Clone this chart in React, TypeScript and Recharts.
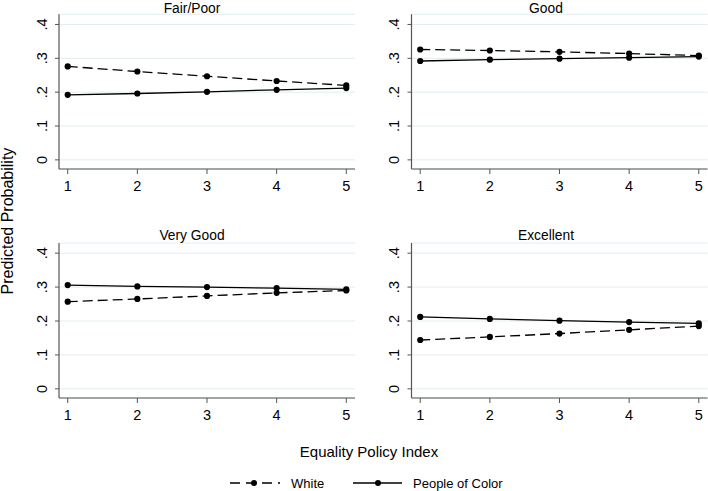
import React from 'react';
import { LineChart, Line, XAxis, YAxis, CartesianGrid } from 'recharts';

const indexValues = [1, 2, 3, 4, 5];
const panelTitles = ['Fair/Poor', 'Good', 'Very Good', 'Excellent'];
const whiteFairPoor = [0.276, 0.261, 0.247, 0.233, 0.22];
const pocFairPoor = [0.192, 0.196, 0.201, 0.207, 0.212];
const whiteGood = [0.326, 0.323, 0.319, 0.314, 0.308];
const pocGood = [0.292, 0.296, 0.299, 0.302, 0.305];
const whiteVeryGood = [0.257, 0.265, 0.274, 0.283, 0.29];
const pocVeryGood = [0.306, 0.302, 0.3, 0.297, 0.293];
const whiteExcellent = [0.144, 0.153, 0.163, 0.174, 0.185];
const pocExcellent = [0.212, 0.206, 0.201, 0.197, 0.193];
const yTicks = [0, 0.1, 0.2, 0.3, 0.4];
const yTickLabels = ['0', '.1', '.2', '.3', '.4'];
const seriesNames = ['White', 'People of Color'];

const FONT = '"Liberation Sans", Arial, Helvetica, sans-serif';
const AXIS_COLOR = '#555555';
const GRID_COLOR = '#e3edf1';

const whiteSeries = [whiteFairPoor, whiteGood, whiteVeryGood, whiteExcellent];
const pocSeries = [pocFairPoor, pocGood, pocVeryGood, pocExcellent];

const buildRows = (w: number[], p: number[]) =>
  indexValues.map((x, i) => ({ x, white: w[i], poc: p[i] }));

const XTick = (props: any) => {
  const { x, y, payload } = props;
  return (
    <text x={x} y={y + 17} textAnchor="middle" fontFamily={FONT} fontSize={14.5} fill="#000">
      {payload.value}
    </text>
  );
};

const YTick = (props: any) => {
  const { x, y, payload } = props;
  const idx = yTicks.indexOf(payload.value);
  const label = idx >= 0 ? yTickLabels[idx] : String(payload.value);
  const bx = x - 8;
  return (
    <text
      x={bx}
      y={y}
      textAnchor="middle"
      transform={`rotate(-90, ${bx}, ${y})`}
      fontFamily={FONT}
      fontSize={14.5}
      fill="#000"
    >
      {label}
    </text>
  );
};

const Dot = (props: any) => {
  const { cx, cy, index, dataKey } = props;
  if (cx == null || cy == null) return <g key={`${dataKey}-${index}`} />;
  return <circle key={`${dataKey}-${index}`} cx={cx} cy={cy} r={3.1} fill="#000" stroke="none" />;
};

type PanelProps = { idx: number; left: number; top: number; width: number; height: number; yAxisWidth: number; marginTop: number; marginRight: number };

const Panel = ({ idx, left, top, width, height, yAxisWidth, marginTop, marginRight }: PanelProps) => {
  const data = buildRows(whiteSeries[idx], pocSeries[idx]);
  return (
    <div style={{ position: 'absolute', left, top, width, height }}>
      <LineChart
        width={width}
        height={height}
        data={data}
        margin={{ top: marginTop, right: marginRight, bottom: 0, left: 0 }}
      >
        <CartesianGrid vertical={false} horizontal stroke={GRID_COLOR} strokeWidth={1} />
        <XAxis
          type="number"
          dataKey="x"
          domain={[0.875, 5.125]}
          ticks={indexValues}
          allowDataOverflow
          height={25}
          tickSize={5}
          tickMargin={0}
          axisLine={{ stroke: AXIS_COLOR, strokeWidth: 1.2 }}
          tickLine={{ stroke: AXIS_COLOR, strokeWidth: 1 }}
          tick={<XTick />}
          interval={0}
        />
        <YAxis
          type="number"
          domain={[-0.027, 0.43]}
          ticks={yTicks}
          allowDataOverflow
          width={yAxisWidth}
          tickSize={4}
          tickMargin={0}
          axisLine={{ stroke: AXIS_COLOR, strokeWidth: 1.2 }}
          tickLine={{ stroke: AXIS_COLOR, strokeWidth: 1 }}
          tick={<YTick />}
          interval={0}
        />
        <Line
          type="linear"
          dataKey="white"
          name={seriesNames[0]}
          stroke="#000"
          strokeWidth={1.3}
          strokeDasharray="10 5"
          dot={Dot}
          activeDot={false}
          isAnimationActive={false}
        />
        <Line
          type="linear"
          dataKey="poc"
          name={seriesNames[1]}
          stroke="#000"
          strokeWidth={1.3}
          dot={Dot}
          activeDot={false}
          isAnimationActive={false}
        />
      </LineChart>
    </div>
  );
};

export default function App() {
  return (
    <div style={{ position: 'absolute', left: 0, top: 0, width: 708, height: 491, background: '#fff', fontFamily: FONT }}>
      <Panel idx={0} left={0} top={0} width={356} height={194} yAxisWidth={59} marginTop={14.3} marginRight={1} />
      <Panel idx={1} left={354} top={0} width={354} height={194} yAxisWidth={57.5} marginTop={14.3} marginRight={0.5} />
      <Panel idx={2} left={0} top={220} width={356} height={203} yAxisWidth={59} marginTop={23} marginRight={1} />
      <Panel idx={3} left={354} top={220} width={354} height={203} yAxisWidth={57.5} marginTop={23} marginRight={0.5} />
      <svg
        width={708}
        height={491}
        style={{ position: 'absolute', left: 0, top: 0, pointerEvents: 'none' }}
        fontFamily={FONT}
      >
        <text x={192} y={13} textAnchor="middle" fontSize={13.8} fill="#000">{panelTitles[0]}</text>
        <text x={546} y={13} textAnchor="middle" fontSize={13.8} fill="#000">{panelTitles[1]}</text>
        <text x={192} y={240} textAnchor="middle" fontSize={13.8} fill="#000">{panelTitles[2]}</text>
        <text x={546} y={240} textAnchor="middle" fontSize={13.8} fill="#000">{panelTitles[3]}</text>
        <text x={13} y={221} textAnchor="middle" fontSize={16} fill="#000" transform="rotate(-90, 13, 221)">
          Predicted Probability
        </text>
        <text x={369} y={456.5} textAnchor="middle" fontSize={15} fill="#000">Equality Policy Index</text>
        <line x1={230} x2={280} y1={483} y2={483} stroke="#000" strokeWidth={1.3} strokeDasharray="10 6" />
        <circle cx={254} cy={483} r={3} fill="#000" />
        <text x={291} y={487.5} fontSize={13} fill="#000">{seriesNames[0]}</text>
        <line x1={353} x2={402} y1={483} y2={483} stroke="#000" strokeWidth={1.3} />
        <circle cx={378} cy={483} r={3} fill="#000" />
        <text x={413} y={487.5} fontSize={13} fill="#000">{seriesNames[1]}</text>
      </svg>
    </div>
  );
}
